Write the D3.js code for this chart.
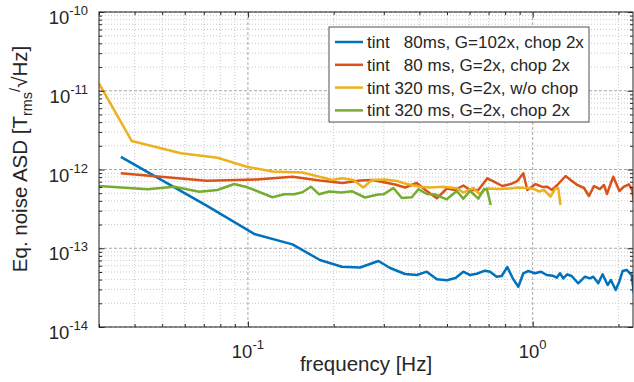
<!DOCTYPE html>
<html>
<head>
<meta charset="utf-8">
<script src="https://cdn.jsdelivr.net/npm/d3@7"></script>
<style>
body { margin: 0; background: #fff; }
text { font-family: "Liberation Sans", Arial, sans-serif; fill: #262626; }
</style>
</head>
<body>
<svg id="chart" width="634" height="382"></svg>
<script>
// Each series is [frequency in Hz, noise ASD in T/sqrt(Hz)].
const tint80G102 = [
    [0.0358, 1.45e-12], [0.0716, 3.47e-13], [0.1052, 1.52e-13], [0.1434, 1.12e-13],
    [0.1789, 7.09e-14], [0.2137, 5.83e-14], [0.2477, 5.69e-14], [0.2872, 6.89e-14],
    [0.3157, 5.61e-14], [0.3563, 4.71e-14], [0.3917, 4.57e-14], [0.4247, 5.04e-14],
    [0.4605, 4.05e-14], [0.4992, 3.92e-14], [0.5359, 4.19e-14], [0.5707, 5.04e-14],
    [0.6026, 4.57e-14], [0.636, 4.75e-14], [0.68, 5.19e-14], [0.7085, 5.04e-14],
    [0.7474, 4.35e-14], [0.7782, 4.44e-14], [0.8145, 5.78e-14], [0.851, 4.15e-14],
    [0.8903, 3.25e-14], [0.927, 4.81e-14], [0.965, 5.14e-14], [1.019, 4.81e-14],
    [1.067, 5.04e-14], [1.12, 4.57e-14], [1.175, 4.48e-14], [1.214, 4.23e-14],
    [1.247, 4.81e-14], [1.28, 4.15e-14], [1.322, 4.67e-14], [1.37, 4.44e-14],
    [1.445, 3.59e-14], [1.526, 4.35e-14], [1.589, 4.15e-14], [1.632, 4.35e-14],
    [1.699, 3.59e-14], [1.76, 4.67e-14], [1.833, 3.41e-14], [1.882, 3.95e-14],
    [1.956, 2.95e-14], [2.013, 3.76e-14], [2.069, 5.14e-14], [2.137, 5.3e-14],
    [2.225, 4.57e-14], [2.267, 2.68e-14]
];

const tint80G2 = [
    [0.0358, 8.95e-13], [0.0716, 7.21e-13], [0.1075, 7.46e-13], [0.1434, 8.1e-13],
    [0.1789, 7.25e-13], [0.2147, 6.74e-13], [0.2477, 7.25e-13], [0.273, 7.36e-13],
    [0.3032, 6.84e-13], [0.3287, 6.45e-13], [0.3563, 5.91e-13], [0.3917, 6.74e-13],
    [0.4247, 5.33e-13], [0.4605, 4.31e-13], [0.4992, 5.74e-13], [0.5338, 5.49e-13],
    [0.5707, 6.26e-13], [0.6026, 5.49e-13], [0.6445, 5.49e-13], [0.6929, 7.73e-13],
    [0.7313, 7.0e-13], [0.7821, 6.17e-13], [0.837, 6.54e-13], [0.883, 7.14e-13],
    [0.927, 8.95e-13], [0.957, 5.49e-13], [1.024, 6.54e-13], [1.081, 6.0e-13],
    [1.125, 6.05e-13], [1.169, 5.49e-13], [1.22, 6.36e-13], [1.305, 8.27e-13],
    [1.359, 7.36e-13], [1.434, 6.36e-13], [1.514, 5.82e-13], [1.576, 4.61e-13],
    [1.641, 6.17e-13], [1.722, 5.65e-13], [1.779, 6.36e-13], [1.822, 4.89e-13],
    [1.918, 8.1e-13], [2.016, 5.33e-13], [2.091, 6.05e-13], [2.177, 6.49e-13],
    [2.236, 5.49e-13], [2.267, 3.9e-13]
];

const tint320NoChop = [
    [0.03, 1.24e-11], [0.0391, 2.30e-12], [0.0582, 1.61e-12], [0.0782, 1.41e-12],
    [0.0984, 1.09e-12], [0.122, 9.43e-13], [0.1554, 9.16e-13], [0.198, 7.36e-13],
    [0.2137, 7.73e-13], [0.2347, 7.36e-13], [0.2544, 5.91e-13], [0.2723, 7.36e-13],
    [0.3032, 7.46e-13], [0.3333, 7.14e-13], [0.3613, 6.54e-13], [0.4023, 6.05e-13],
    [0.4362, 5.91e-13], [0.4857, 6.05e-13], [0.5412, 5.77e-13], [0.5707, 5.1e-13],
    [0.6189, 5.82e-13], [0.6497, 4.89e-13], [0.6896, 5.74e-13], [0.7676, 5.65e-13],
    [0.837, 5.74e-13], [0.8917, 5.91e-13], [0.955, 5.82e-13], [1.0105, 5.65e-13],
    [1.052, 5.26e-13], [1.095, 5.49e-13], [1.155, 4.54e-13], [1.202, 5.74e-13],
    [1.23, 5.77e-13], [1.252, 3.54e-13]
];

const tint320Chop = [
    [0.03, 6.17e-13], [0.0444, 5.6e-13], [0.0551, 6.05e-13], [0.0675, 5.23e-13],
    [0.0782, 5.49e-13], [0.0895, 6.54e-13], [0.0997, 5.94e-13], [0.122, 4.44e-13],
    [0.1341, 4.84e-13], [0.1454, 4.84e-13], [0.1554, 5.13e-13], [0.1664, 6.05e-13],
    [0.1779, 4.84e-13], [0.1929, 5.26e-13], [0.2134, 5.1e-13], [0.2323, 5.29e-13],
    [0.258, 4.41e-13], [0.2866, 4.81e-13], [0.2991, 4.84e-13], [0.3243, 5.82e-13],
    [0.347, 4.35e-13], [0.3762, 4.44e-13], [0.3968, 5.62e-13], [0.4247, 4.89e-13],
    [0.4541, 4.81e-13], [0.4992, 4.18e-13], [0.5412, 5.33e-13], [0.5707, 4.26e-13],
    [0.6026, 5.33e-13], [0.6445, 4.26e-13], [0.6747, 5.65e-13], [0.6912, 5.57e-13],
    [0.7121, 3.54e-13]
];

const seriesNames = [
    "tint   80ms, G=102x, chop 2x",
    "tint   80 ms, G=2x, chop 2x",
    "tint 320 ms, G=2x, w/o chop",
    "tint 320 ms, G=2x, chop 2x"
];

// decade ticks and the exponents printed under them
const xMajor = [0.1, 1];
const xExponents = ["-1", "0"];
const yMajor = [1e-14, 1e-13, 1e-12, 1e-11, 1e-10];
const yExponents = ["-14", "-13", "-12", "-11", "-10"];

const allSeries = [tint80G102, tint80G2, tint320NoChop, tint320Chop];
const colors = ["#0072BD", "#D95319", "#EDB120", "#77AC30"];

let plotLeft = 99, plotRight = 633, plotTop = 12, plotBottom = 327;

let svg = d3.select("#chart");

let x = d3.scaleLog().domain([0.03, 2.25]).range([plotLeft, plotRight]);
let y = d3.scaleLog().domain([1e-14, 1e-10]).range([plotBottom, plotTop]);

function isDecade(v) {
    let l = Math.log10(v);
    return Math.abs(l - Math.round(l)) < 1e-6;
}

let xMinor = x.ticks().filter(d => !isDecade(d));
let yMinor = y.ticks().filter(d => !isDecade(d));

// grid: minor dotted, major dashed
let grid = svg.append("g").attr("class", "grid");
grid.selectAll(".xminor").data(xMinor).enter().append("line")
    .attr("x1", d => x(d)).attr("x2", d => x(d))
    .attr("y1", plotTop).attr("y2", plotBottom)
    .attr("stroke", "#c8c8c8").attr("stroke-dasharray", "1,2");
grid.selectAll(".yminor").data(yMinor).enter().append("line")
    .attr("x1", plotLeft).attr("x2", plotRight)
    .attr("y1", d => y(d)).attr("y2", d => y(d))
    .attr("stroke", "#c8c8c8").attr("stroke-dasharray", "1,2");
grid.selectAll(".xmajor").data(xMajor).enter().append("line")
    .attr("x1", d => x(d)).attr("x2", d => x(d))
    .attr("y1", plotTop).attr("y2", plotBottom)
    .attr("stroke", "#a8a8a8").attr("stroke-dasharray", "3,2");
grid.selectAll(".ymajor").data(yMajor).enter().append("line")
    .attr("x1", plotLeft).attr("x2", plotRight)
    .attr("y1", d => y(d)).attr("y2", d => y(d))
    .attr("stroke", "#a8a8a8").attr("stroke-dasharray", "3,2");

svg.append("clipPath").attr("id", "plotclip")
    .append("rect")
    .attr("x", plotLeft).attr("y", plotTop)
    .attr("width", plotRight - plotLeft).attr("height", plotBottom - plotTop);

let line = d3.line()
    .x(d => x(d[0]))
    .y(d => y(d[1]));

svg.append("g")
    .attr("clip-path", "url(#plotclip)")
    .selectAll("path")
    .data(allSeries)
    .enter().append("path")
    .attr("d", line)
    .attr("fill", "none")
    .attr("stroke", (d, i) => colors[i])
    .attr("stroke-width", 2.5)
    .attr("stroke-linejoin", "round");

// ticks on all four sides, pointing inward
function ticks(axis, transform, values, size) {
    svg.append("g")
        .attr("transform", transform)
        .attr("color", "#262626")
        .call(axis.tickValues(values).tickSize(size).tickFormat(""))
        .call(g => g.select(".domain").remove());
}
ticks(d3.axisBottom(x), "translate(0," + plotBottom + ")", xMinor, -3);
ticks(d3.axisBottom(x), "translate(0," + plotBottom + ")", xMajor, -5.5);
ticks(d3.axisTop(x), "translate(0," + plotTop + ")", xMinor, -3);
ticks(d3.axisTop(x), "translate(0," + plotTop + ")", xMajor, -5.5);
ticks(d3.axisLeft(y), "translate(" + plotLeft + ",0)", yMinor, -3);
ticks(d3.axisLeft(y), "translate(" + plotLeft + ",0)", yMajor, -5.5);
ticks(d3.axisRight(y), "translate(" + plotRight + ",0)", yMinor, -3);
ticks(d3.axisRight(y), "translate(" + plotRight + ",0)", yMajor, -5.5);

svg.append("rect")
    .attr("x", plotLeft).attr("y", plotTop)
    .attr("width", plotRight - plotLeft).attr("height", plotBottom - plotTop)
    .attr("fill", "none").attr("stroke", "#262626").attr("stroke-width", 1);

// tick labels as 10^n
let xl = svg.selectAll(".xlab").data(xMajor).enter().append("text")
    .attr("x", d => x(d)).attr("y", 358)
    .attr("text-anchor", "middle")
    .style("font-size", "18.5px");
xl.append("tspan").text("10");
xl.append("tspan").attr("dy", -9).style("font-size", "13px").text((d, i) => xExponents[i]);

let yl = svg.selectAll(".ylab").data(yMajor).enter().append("text")
    .attr("x", 88).attr("y", d => y(d) + 12)
    .attr("text-anchor", "end")
    .style("font-size", "18.5px");
yl.append("tspan").text("10");
yl.append("tspan").attr("dy", -9).style("font-size", "13px").text((d, i) => yExponents[i]);

// axis titles
svg.append("text")
    .attr("x", (plotLeft + plotRight) / 2).attr("y", 371)
    .attr("text-anchor", "middle")
    .style("font-size", "20.5px")
    .text("frequency [Hz]");

let yt = svg.append("text")
    .attr("transform", "translate(27,159) rotate(-90)")
    .attr("text-anchor", "middle")
    .style("font-size", "20.5px");
yt.append("tspan").text("Eq. noise ASD [T");
yt.append("tspan").attr("dy", 5).style("font-size", "14.5px").text("rms");
yt.append("tspan").attr("dy", -12).style("font-size", "14.5px").text("/");
yt.append("tspan").attr("dy", 7).text("\u221AHz]");

// legend
let legend = svg.append("g");
legend.append("rect")
    .attr("x", 329).attr("y", 27)
    .attr("width", 260).attr("height", 95)
    .attr("fill", "#fff").attr("stroke", "#262626").attr("stroke-width", 0.8);

let rows = legend.selectAll(".row").data(seriesNames).enter().append("g")
    .attr("transform", (d, i) => "translate(0," + (42 + i * 22.8) + ")");
rows.append("line")
    .attr("x1", 335).attr("x2", 363)
    .attr("stroke", (d, i) => colors[i])
    .attr("stroke-width", 2.5);
rows.append("text")
    .attr("x", 367).attr("y", 6)
    .attr("xml:space", "preserve")
    .style("white-space", "pre")
    .style("font-size", "17px")
    .text(d => d);
</script>
</body>
</html>
